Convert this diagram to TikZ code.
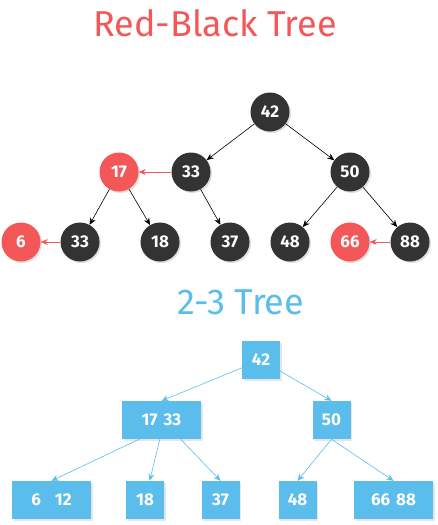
\documentclass[tikz,border=0pt]{standalone}
\usepackage{fontspec}
\setmainfont{Fira Sans}
\usetikzlibrary{arrows.meta,shadows}

\definecolor{rbred}{HTML}{F45757}
\definecolor{rbblack}{HTML}{333333}
\definecolor{ttblue}{HTML}{5BBDEB}

\begin{document}
\begin{tikzpicture}[x=1pt,y=-1pt,
    rbnode/.style={circle,minimum size=39pt,inner sep=0pt,text=white,
        font=\fontsize{17}{17}\selectfont\bfseries,
        drop shadow={opacity=0.25,shadow xshift=1.5pt,shadow yshift=-1.5pt}},
    ttnode/.style={rectangle,fill=ttblue,minimum height=38pt,minimum width=38pt,
        inner sep=0pt,text=white,font=\fontsize{17}{17}\selectfont\bfseries,
        drop shadow={opacity=0.2,shadow xshift=1.5pt,shadow yshift=-1.5pt}},
    rbarr/.style={-{Stealth[length=7pt,width=6pt]},black,line width=0.6pt},
    redarr/.style={-{Stealth[length=7pt,width=6pt]},rbred,line width=0.8pt},
    ttarr/.style={-{Stealth[length=7pt,width=6pt]},ttblue,line width=0.6pt}]
\useasboundingbox (0,0) rectangle (437,525);

% red-black tree
\node[text=rbred,font=\fontsize{36}{40}\selectfont] (rbtitle) at (215,23) {Red-Black Tree};

\node[rbnode,fill=rbblack] (r42) at (270,112) {42};
\node[rbnode,fill=rbred] (r17) at (119,172) {17};
\node[rbnode,fill=rbblack] (r33) at (191,172) {33};
\node[rbnode,fill=rbblack] (r50) at (350,172) {50};

\foreach \name/\x/\val/\col in {r6/21/6/rbred, r33b/80/33/rbblack, r18/160/18/rbblack,
    r37/230/37/rbblack, r48/290/48/rbblack, r66/350/66/rbred, r88/410/88/rbblack}
{
    \node[rbnode,fill=\col] (\name) at (\x,242) {\val};
}

\draw[rbarr] (r42) -- (r33);
\draw[rbarr] (r42) -- (r50);
\draw[rbarr] (r17) -- (r33b);
\draw[rbarr] (r17) -- (r18);
\draw[rbarr] (r33) -- (r37);
\draw[rbarr] (r50) -- (r48);
\draw[rbarr] (r50) -- (r88);

\draw[redarr] (r33) -- (r17);
\draw[redarr] (r33b) -- (r6);
\draw[redarr] (r88) -- (r66);

% 2-3 tree
\node[text=ttblue,font=\fontsize{36}{40}\selectfont] (tttitle) at (241,302) {2-3 Tree};

\node[ttnode] (t42) at (261,360) {42};
\node[ttnode,minimum width=79pt] (t1733) at (161.5,420) {17\hspace{6pt}33};
\node[ttnode] (t50) at (331.5,420) {50};

\node[ttnode,minimum width=79pt] (t612) at (51.5,500) {6\hspace{14pt}12};
\node[ttnode] (t18) at (145,500) {18};
\node[ttnode] (t37) at (220.5,500) {37};
\node[ttnode] (t48) at (297.5,500) {48};
\node[ttnode,minimum width=79pt] (t6688) at (393.5,500) {66\hspace{6pt}88};

\draw[ttarr] (t42) -- (t1733.north);
\draw[ttarr] (t42) -- (t50.north);
\draw[ttarr] (t1733.221) -- (t612.north);
\draw[ttarr] (t1733.265) -- (t18);
\draw[ttarr] (t1733.315) -- (t37.north);
\draw[ttarr] (t50.south) -- (t48.north);
\draw[ttarr] (t50.south) -- (t6688.north);

\end{tikzpicture}
\end{document}
